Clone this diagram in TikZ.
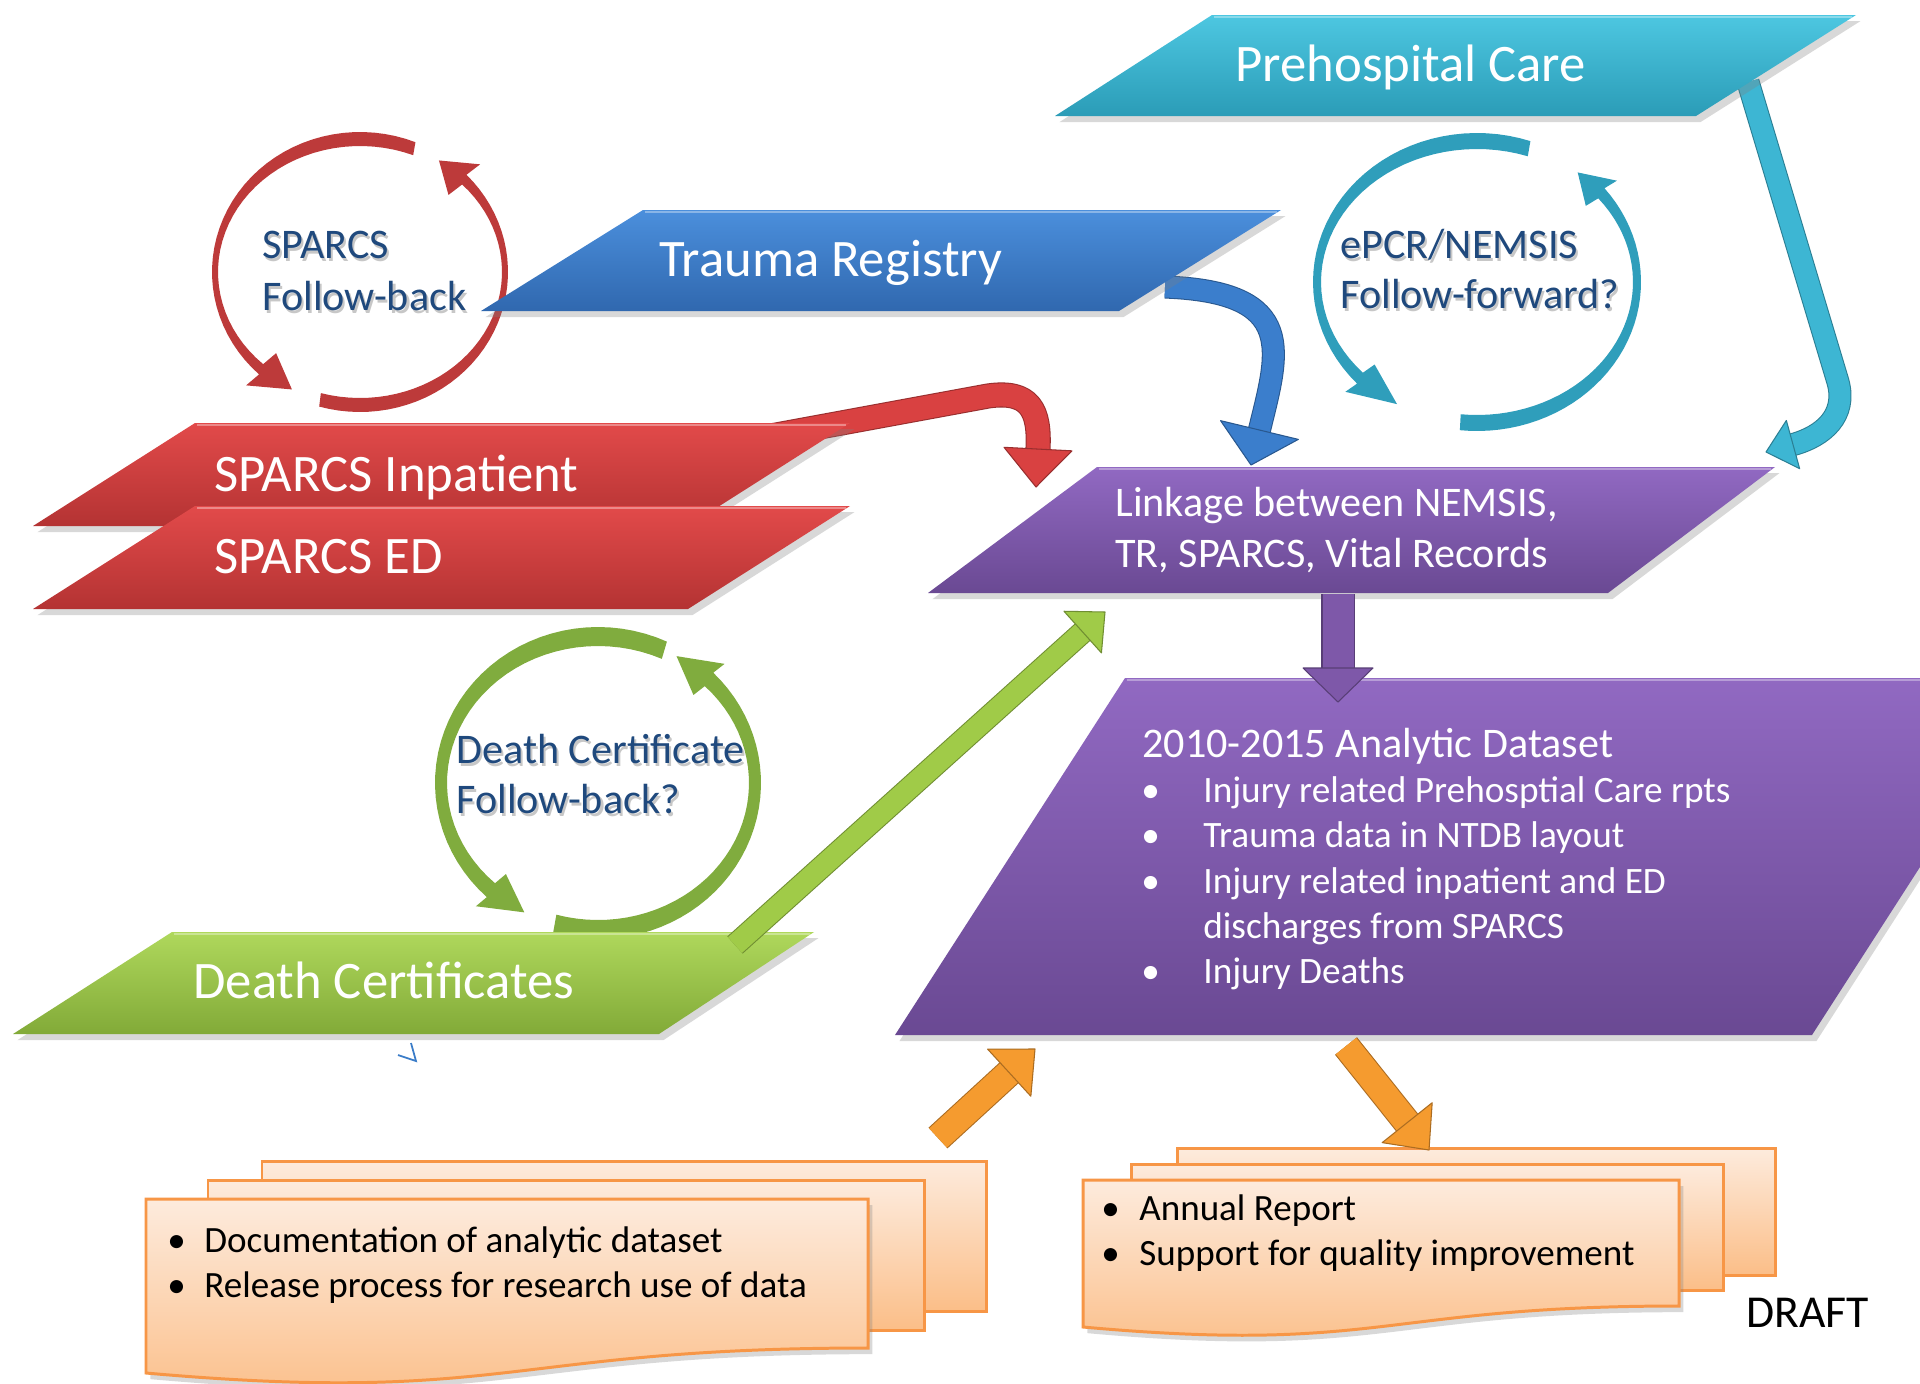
\documentclass[tikz,border=0pt]{standalone}
\usepackage{fontspec}
\setmainfont{Carlito}
\usetikzlibrary{calc,shadows}
\definecolor{tealT}{HTML}{4DC7E1}
\definecolor{tealB}{HTML}{2B9CB7}
\definecolor{blueT}{HTML}{4B8FDC}
\definecolor{blueB}{HTML}{3068AF}
\definecolor{redT}{HTML}{E24A4A}
\definecolor{redB}{HTML}{B43333}
\definecolor{purT}{HTML}{9169C2}
\definecolor{purB}{HTML}{6A4993}
\definecolor{grnT}{HTML}{AFD85C}
\definecolor{grnB}{HTML}{82AA38}
\definecolor{ringR}{HTML}{BD3A3A}
\definecolor{ringT}{HTML}{2F9EBB}
\definecolor{ringG}{HTML}{80AC3E}
\definecolor{arrR}{HTML}{D94141}
\definecolor{arrB}{HTML}{3B7ECC}
\definecolor{arrT}{HTML}{3DB6D3}
\definecolor{arrP}{HTML}{7E58A9}
\definecolor{arrG}{HTML}{A0CB48}
\definecolor{arrO}{HTML}{F59B2F}
\definecolor{docE}{HTML}{F79646}
\definecolor{docT}{HTML}{FDEBDD}
\definecolor{docBot}{HTML}{FBBE88}
\definecolor{navy}{HTML}{1F497D}
\definecolor{marker}{HTML}{3A7CC8}

% tapered ring arc with arrow head
\newcommand{\cycarc}[9]{%
  \fill[\cyccol] plot[domain=#7:#8,samples=40] ({#1+#3*cos(\x)},{#2+#4*sin(\x)})
   -- ({#1+((#3+#5)/2+\cychw)*cos(#8)},{#2+((#4+#6)/2+\cychw)*sin(#8)})
   -- ({#1+(#3+#5)/2*cos(#9)},{#2+(#4+#6)/2*sin(#9)})
   -- ({#1+((#3+#5)/2-\cychw)*cos(#8)},{#2+((#4+#6)/2-\cychw)*sin(#8)})
   -- plot[domain=#8:#7,samples=40] ({#1+#5*cos(\x)},{#2+#6*sin(\x)}) -- cycle;}
% triangular head: colour, tip, base centre, half width
\newcommand{\headat}[4]{%
  \filldraw[fill=#1,draw=#1!70!black,line width=0.6pt,line join=round]
    ($(#3)!#4!90:(#2)$) -- (#2) -- ($(#3)!#4!-90:(#2)$) -- cycle;}

\begin{document}
\begin{tikzpicture}[x=0.02cm,y=-0.02cm,
  shp/.style={drop shadow={opacity=0.3,shadow xshift=2.5pt,shadow yshift=-3.5pt}},
  bigtxt/.style={text=white,font=\fontsize{30}{36}\selectfont,anchor=base west,inner sep=0pt},
  midtxt/.style={text=white,font=\fontsize{24}{29}\selectfont,anchor=base west,inner sep=0pt},
  bultxt/.style={text=white,font=\fontsize{21.2}{25}\selectfont,anchor=base west,inner sep=0pt},
  cyctxt/.style={text=navy,font=\fontsize{24}{29}\selectfont,anchor=base west,inner sep=0pt},
  cycsh/.style={text=black!40,text opacity=0.55,font=\fontsize{24}{29}\selectfont,anchor=base west,inner sep=0pt,xshift=1.2pt,yshift=-1.8pt},
  doctxt/.style={text=black,font=\fontsize{21.1}{25}\selectfont,anchor=base west,inner sep=0pt},
  docpage/.style={draw=docE,line width=1.7pt,top color=docT,bottom color=docBot},
  shaft/.style 2 args={double=#1,draw=#1!70!black,line width=0.6pt,double distance=#2,line join=round},
]
\useasboundingbox (0,0) rectangle (1920,1383);
\fill[white] (0,0) rectangle (1920,1383);

% ---------- cycle rings ----------
\def\cyccol{ringR}\def\cychw{22}
\cycarc{360}{272}{148}{140}{142}{126}{292}{133}{118}
\cycarc{360}{272}{148}{140}{142}{126}{106}{-44}{-57}
\def\cyccol{ringT}\def\cychw{20}
\cycarc{1477}{282}{164}{149}{156}{133}{289}{137}{120}
\cycarc{1477}{282}{164}{149}{156}{133}{96}{-39}{-51}
\def\cyccol{ringG}\def\cychw{22}
\cycarc{598}{783}{163}{156}{151}{137}{295}{133}{118}
\cycarc{598}{783}{163}{156}{151}{137}{106}{-45}{-60}

% ---------- connector anchors ----------
\coordinate (inpX) at (760,438);
\coordinate (trX) at (1165,287);
\coordinate (preX) at (1748,82);
\coordinate (redTip) at (1036,487);
\coordinate (redCtl) at (1040,410);
\coordinate (redBase) at ($(redTip)!0.76cm!(redCtl)$);
\coordinate (bluTip) at (1251,465);
\coordinate (bluCtl) at (1278,353);
\coordinate (bluBase) at ($(bluTip)!0.72cm!(bluCtl)$);
\coordinate (tealTip) at (1766,452);
\coordinate (tealCtl) at (1824,436);
\coordinate (tealBase) at ($(tealTip)!0.56cm!(tealCtl)$);

% arrows coming from behind the boxes
\draw[shaft={arrR}{0.46cm}] (inpX) -- (988,396) .. controls (1030,390) and (redCtl) .. (redBase);
\headat{arrR}{redTip}{redBase}{0.68cm}
\draw[shaft={arrB}{0.42cm}] (trX) .. controls (1300,292) and (bluCtl) .. (bluBase);
\headat{arrB}{bluTip}{bluBase}{0.8cm}
\draw[shaft={arrT}{0.42cm}] (preX) -- (1838,382) .. controls (1847,415) and (tealCtl) .. (tealBase);
\headat{arrT}{tealTip}{tealBase}{0.5cm}

% ---------- main boxes ----------
\path[shp,top color=tealT,bottom color=tealB] (1212,15) -- (1856,15) -- (1696,116) -- (1055,116) -- cycle;
\draw[white,opacity=0.35,line width=1.5pt] (1214,17) -- (1852,17);
\node[bigtxt] (pre) at (1235,81) {Prehospital Care};

\path[shp,top color=blueT,bottom color=blueB] (643,210) -- (1281,210) -- (1119,311) -- (481,311) -- cycle;
\draw[white,opacity=0.35,line width=1.5pt] (645,212) -- (1277,212);
\node[bigtxt] (tr) at (659,276) {Trauma Registry};

\path[shp,top color=redT,bottom color=redB] (195,423) -- (850,423) -- (688,526) -- (33,526) -- cycle;
\draw[white,opacity=0.35,line width=1.5pt] (197,425) -- (846,425);
\node[bigtxt] (inp) at (214,491) {SPARCS Inpatient};

\path[shp,top color=redT,bottom color=redB] (195,506) -- (850,506) -- (688,609) -- (33,609) -- cycle;
\draw[white,opacity=0.35,line width=1.5pt] (197,508) -- (846,508);
\node[bigtxt] (ed) at (214,573) {SPARCS ED};

\path[shp,top color=purT,bottom color=purB] (1097,467) -- (1775,467) -- (1608,593) -- (928,593) -- cycle;
\draw[white,opacity=0.35,line width=1.5pt] (1099,469) -- (1771,469);
\node[midtxt] (link1) at (1115,516) {Linkage between NEMSIS,};
\node[midtxt] (link2) at (1115,567) {TR, SPARCS, Vital Records};

\path[shp,top color=purT,bottom color=purB] (1125,678) -- (1920,678) -- (1920,867) -- (1812,1035) -- (895,1035) -- cycle;
\draw[white,opacity=0.35,line width=1.5pt] (1127,680) -- (1920,680);
\node[midtxt] (ana) at (1142,757) {2010-2015 Analytic Dataset};
\node[bultxt] (b1) at (1141,802) {•};
\node[bultxt] (a1) at (1203,802) {Injury related Prehosptial Care rpts};
\node[bultxt] (b2) at (1141,847) {•};
\node[bultxt] (a2) at (1203,847) {Trauma data in NTDB layout};
\node[bultxt] (b3) at (1141,893) {•};
\node[bultxt] (a3) at (1203,893) {Injury related inpatient and ED};
\node[bultxt] (a3b) at (1203,938) {discharges from SPARCS};
\node[bultxt] (b4) at (1141,983) {•};
\node[bultxt] (a4) at (1203,983) {Injury Deaths};

\path[shp,top color=grnT,bottom color=grnB] (172,932) -- (814,932) -- (659,1034) -- (13,1034) -- cycle;
\draw[white,opacity=0.35,line width=1.5pt] (174,934) -- (810,934);
\node[bigtxt] (dc) at (193,998) {Death Certificates};

% small stray mark
\draw[marker,line width=1pt] (411,1043) -- (416,1061) -- (398,1055);

% ---------- cycle labels ----------
\node[cycsh] at (262,258) {SPARCS};
\node[cyctxt] (sp1) at (262,258) {SPARCS};
\node[cycsh] at (262,310) {Follow-back};
\node[cyctxt] (sp2) at (262,310) {Follow-back};
\node[cycsh] at (1340,258) {ePCR/NEMSIS};
\node[cyctxt] (ep1) at (1340,258) {ePCR/NEMSIS};
\node[cycsh] at (1340,308) {Follow-forward?};
\node[cyctxt] (ep2) at (1340,308) {Follow-forward?};
\node[cycsh] at (456,763) {Death Certificate};
\node[cyctxt] (dcf1) at (456,763) {Death Certificate};
\node[cycsh] at (456,813) {Follow-back?};
\node[cyctxt] (dcf2) at (456,813) {Follow-back?};

% ---------- connectors on top ----------
\coordinate (dcX) at (735,945);
\coordinate (grnTip) at (1105,612);
\coordinate (grnBase) at ($(grnTip)!0.6cm!(dcX)$);
\draw[shaft={arrG}{0.42cm}] (dcX) -- (grnBase);
\headat{arrG}{grnTip}{grnBase}{0.56cm}

\coordinate (linkX) at (1338,594);
\coordinate (anaTop) at (1338,702);
\coordinate (purBase) at ($(anaTop)!0.68cm!(linkX)$);
\draw[shaft={arrP}{0.62cm}] (linkX) -- (purBase);
\headat{arrP}{anaTop}{purBase}{0.7cm}

% ---------- documents ----------
\path[docpage] (262,1161) rectangle (986,1311);
\path[docpage] (208,1180) rectangle (924,1330);
\path[docpage,shp] (146,1199) -- (868,1199) -- (868,1348) .. controls (507,1348) and (507,1405) .. (146,1373) -- cycle;
\node[doctxt] (l1b) at (167,1252) {•};
\node[doctxt] (l1) at (204,1252) {Documentation of analytic dataset};
\node[doctxt] (l2b) at (167,1297) {•};
\node[doctxt] (l2) at (204,1297) {Release process for research use of data};

\path[docpage] (1177,1148) rectangle (1775,1275);
\path[docpage] (1131,1164) rectangle (1723,1290);
\path[docpage,shp] (1083,1180) -- (1679,1180) -- (1679,1306) .. controls (1381,1306) and (1381,1354) .. (1083,1327) -- cycle;
\node[doctxt] (r1b) at (1101,1220) {•};
\node[doctxt] (r1) at (1139,1220) {Annual Report};
\node[doctxt] (r2b) at (1101,1265) {•};
\node[doctxt] (r2) at (1139,1265) {Support for quality improvement};

\node[anchor=base west,inner sep=0pt,font=\fontsize{26}{30}\selectfont] (draft) at (1746,1327) {DRAFT};

% orange arrows
\coordinate (docL) at (938,1138);
\coordinate (anaBL) at (1035,1049);
\coordinate (oBase1) at ($(anaBL)!0.7cm!(docL)$);
\draw[shaft={arrO}{0.52cm}] (docL) -- (oBase1);
\headat{arrO}{anaBL}{oBase1}{0.64cm}

\coordinate (anaB) at (1346,1046);
\coordinate (docR) at (1429,1150);
\coordinate (oBase2) at ($(docR)!0.7cm!(anaB)$);
\draw[shaft={arrO}{0.52cm}] (anaB) -- (oBase2);
\headat{arrO}{docR}{oBase2}{0.64cm}
\end{tikzpicture}
\end{document}
